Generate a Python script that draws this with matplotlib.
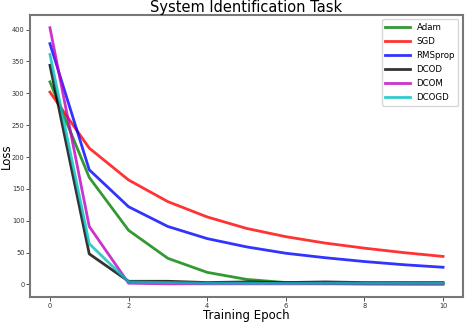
import numpy as np
import matplotlib
matplotlib.use("Agg")
import matplotlib.pyplot as plt

epochs = list(range(11))
adam = [318, 168, 85, 41, 19, 8, 3, 1.5, 0.8, 0.5, 0.3]
sgd = [302, 214, 164, 130, 106, 88, 75, 65, 57, 50, 44]
rmsprop = [378, 180, 122, 91, 72, 59, 49, 42, 36, 31, 27]
dcod = [344, 48, 5, 5, 3, 4, 3, 4, 3, 3, 3]
dcom = [403, 91, 2, 1, 1, 1, 1, 1, 1, 1, 1]
dcogd = [361, 64, 4, 3, 2, 2, 2, 2, 2, 2, 2]

series = [("Adam", adam, "g"), ("SGD", sgd, "r"), ("RMSprop", rmsprop, "b"),
          ("DCOD", dcod, "k"), ("DCOM", dcom, "m"), ("DCOGD", dcogd, "c")]

fig, ax = plt.subplots(figsize=(4.66, 3.24), dpi=100)
for name, vals, col in series:
    ax.plot(epochs, vals, color=col, alpha=0.8, linewidth=2, label=name)

ax.set_title("System Identification Task", fontsize=10.5, pad=1.5)
ax.set_xlabel("Training Epoch", fontsize=8.5, labelpad=0)
ax.set_ylabel("Loss", fontsize=8.5)
ax.yaxis.set_label_coords(-0.04, 0.5)
ax.tick_params(labelsize=4.8, colors="#333333", length=3, width=0.6, pad=1.2)
for s in ax.spines.values():
    s.set_color("#777777")
    s.set_linewidth(1.5)
ax.legend(fontsize=6.2, loc="upper right", handlelength=2.8, labelspacing=0.6)

fig.subplots_adjust(left=0.065, right=0.993, top=0.954, bottom=0.083)
fig.savefig("out.png", dpi=100)
